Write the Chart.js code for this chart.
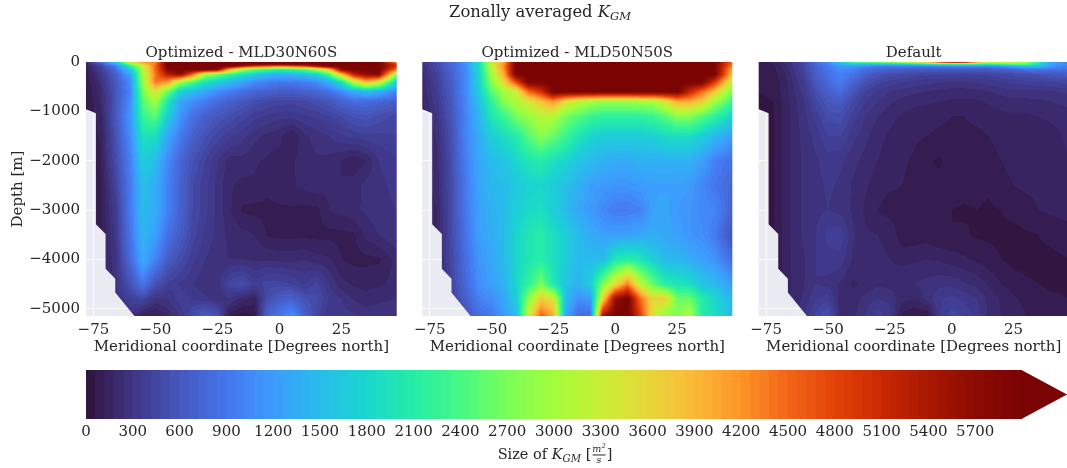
<!DOCTYPE html>
<html>
<head>
<meta charset="utf-8">
<script src="https://cdn.jsdelivr.net/npm/chart.js"></script>
<style>
  html, body { margin: 0; background: #fff; overflow: hidden; }
  #fig { position: relative; width: 1067px; height: 468px; overflow: hidden; font-family: "DejaVu Serif", serif; color: #262626; filter: blur(0.35px); }
  canvas { position: absolute; }
  .lbl { position: absolute; white-space: nowrap; transform: translate(-50%, -50%); line-height: 1; }
  .lbl sub { font-size: 0.7em; vertical-align: -0.25em; line-height: 0; }
  .frac { display: inline-block; vertical-align: middle; text-align: center; font-size: 0.66em; font-style: italic; line-height: 1.05; margin: 0 1px; }
  .frac span { display: block; }
  .frac span:first-child { border-bottom: 1px solid #262626; }
</style>
</head>
<body>
<div id="fig">
  <div class="lbl" style="left:540px; top:12px; font-size:16.4px">Zonally averaged <i>K<sub>GM</sub></i></div>
  <canvas id="panelA" width="400" height="316" style="left:0; top:40px"></canvas>
  <canvas id="panelB" width="345" height="316" style="left:392px; top:40px"></canvas>
  <canvas id="panelC" width="340" height="316" style="left:729px; top:40px"></canvas>
  <canvas id="cbar" width="1067" height="90" style="left:0; top:360px"></canvas>
  <div class="lbl" style="left:555px; top:455px; font-size:14.5px">Size of <i>K<sub>GM</sub></i> [<span class="frac"><span>m<sup style="font-size:.7em;line-height:0">2</sup></span><span>s</span></span>]</div>
</div>
<script>
const lonNodes = [-78, -72, -66, -60, -55, -50, -45, -40, -35, -30, -25, -20, -15, -10, -5, 0, 5, 10, 15, 20, 25, 30, 35, 40, 47.3];
const depthNodes = [0, -40, -80, -150, -250, -400, -600, -800, -1100, -1500, -2000, -2500, -3000, -3500, -4000, -4500, -4800, -5148];

// sea floor step on the southern side
const floorLon = [-78, -74, -74, -70.1, -70.1, -66.2, -66.2, -58.5];
const floorDepth = [-960, -1040, -3290, -3486, -4190, -4392, -4670, -5148];

const xTicks = [-75, -50, -25, 0, 25];
const yTicks = [0, -1000, -2000, -3000, -4000, -5000];
const cbarTicks = [0, 300, 600, 900, 1200, 1500, 1800, 2100, 2400, 2700, 3000, 3300, 3600, 3900, 4200, 4500, 4800, 5100, 5400, 5700];

// one row per entry of lonNodes, values follow depthNodes
const kgmMld30 = [
  [200, 150, 110, 90, 70, 60, 50, 50, 50, 50, 50, 50, 50, 50, 50, 50, 50, 50],
  [900, 600, 450, 380, 320, 260, 220, 190, 160, 130, 110, 100, 100, 110, 130, 150, 180, 200],
  [1700, 1300, 1000, 800, 680, 620, 580, 580, 600, 550, 500, 420, 350, 320, 280, 280, 280, 280],
  [3500, 2800, 2200, 1700, 1300, 1100, 1050, 1100, 1200, 1100, 1000, 950, 950, 900, 800, 550, 400, 300],
  [4200, 3800, 3300, 3100, 3000, 2900, 2700, 2500, 2300, 1950, 1700, 1550, 1500, 1450, 1350, 900, 450, 120],
  [4300, 4400, 4500, 4500, 4400, 4400, 3500, 3000, 2500, 1900, 1500, 1350, 1350, 1250, 1000, 550, 280, 100],
  [6000, 6000, 6000, 5800, 5300, 4200, 2600, 2000, 1700, 1300, 1050, 1000, 1000, 850, 650, 400, 300, 200],
  [6000, 6000, 6000, 6000, 5700, 3000, 1700, 1300, 1150, 950, 750, 720, 720, 650, 500, 350, 400, 300],
  [6000, 6000, 6000, 6000, 4500, 2500, 1500, 1100, 850, 700, 550, 480, 480, 450, 380, 300, 350, 500],
  [6000, 6000, 6000, 6000, 3000, 2000, 1300, 950, 700, 550, 420, 380, 380, 350, 300, 250, 320, 650],
  [6000, 6000, 6000, 5800, 2700, 1750, 1100, 800, 600, 450, 300, 280, 280, 280, 250, 260, 250, 550],
  [6000, 6000, 6000, 4000, 2300, 1500, 950, 700, 520, 380, 210, 190, 190, 220, 240, 450, 300, 80],
  [6000, 6000, 5500, 3000, 2000, 1300, 850, 620, 450, 320, 220, 160, 110, 200, 240, 520, 200, 20],
  [6000, 6000, 5000, 2600, 1700, 1100, 750, 520, 380, 260, 190, 170, 100, 180, 230, 380, 150, 60],
  [6000, 6000, 4800, 2400, 1500, 1000, 700, 480, 350, 220, 170, 130, 110, 110, 230, 450, 500, 700],
  [6000, 6000, 4600, 2200, 1400, 950, 650, 450, 320, 200, 150, 150, 110, 100, 220, 450, 650, 900],
  [6000, 6000, 4800, 2300, 1450, 950, 650, 440, 320, 120, 170, 170, 110, 100, 220, 420, 700, 1100],
  [6000, 6000, 5000, 2500, 1600, 1000, 700, 470, 350, 220, 210, 200, 100, 100, 240, 350, 550, 700],
  [6000, 6000, 5600, 3000, 1800, 1100, 750, 520, 370, 270, 230, 220, 100, 100, 200, 440, 500, 450],
  [6000, 6000, 6000, 3800, 2400, 1400, 850, 580, 420, 300, 220, 190, 180, 100, 190, 300, 350, 300],
  [6000, 6000, 6000, 5700, 3800, 2000, 1050, 700, 480, 350, 180, 180, 200, 100, 120, 200, 300, 320],
  [6000, 6000, 6000, 6000, 5200, 3200, 1350, 800, 550, 380, 130, 210, 230, 110, 100, 170, 230, 320],
  [6000, 6000, 6000, 6000, 5700, 4000, 1500, 800, 580, 400, 180, 260, 250, 200, 100, 160, 200, 280],
  [6000, 6000, 6000, 6000, 5800, 3500, 1400, 750, 520, 400, 300, 280, 280, 240, 110, 170, 220, 300],
  [4200, 4800, 5000, 4400, 2800, 1700, 1000, 650, 450, 420, 350, 320, 300, 300, 200, 200, 240, 300]
];

const kgmMld50 = [
  [300, 280, 260, 240, 220, 200, 180, 160, 150, 150, 150, 150, 150, 150, 150, 150, 150, 150],
  [550, 500, 480, 450, 420, 400, 380, 350, 300, 250, 220, 200, 180, 170, 160, 160, 160, 160],
  [800, 780, 760, 740, 700, 680, 650, 620, 590, 560, 530, 520, 500, 500, 480, 450, 400, 350],
  [1200, 1150, 1100, 1100, 1100, 1100, 1100, 1080, 1050, 1050, 1000, 950, 950, 900, 850, 800, 700, 600],
  [2000, 1900, 1850, 1850, 1800, 1800, 1700, 1550, 1450, 1350, 1300, 1300, 1250, 1250, 1150, 1100, 1000, 800],
  [3300, 3300, 3200, 3100, 3000, 2800, 2500, 2200, 2000, 1700, 1500, 1450, 1400, 1350, 1300, 1250, 1100, 900],
  [4000, 4200, 4300, 4200, 4000, 3600, 3000, 2800, 2300, 1900, 1600, 1500, 1500, 1500, 1500, 1400, 1300, 1200],
  [6000, 6000, 6000, 6000, 6000, 4800, 3300, 3100, 2700, 2100, 1800, 1650, 1700, 1800, 1800, 1800, 1700, 1500],
  [6000, 6000, 6000, 6000, 6000, 6000, 4500, 3400, 2900, 2500, 2000, 1750, 1850, 2000, 2000, 2200, 2800, 3300],
  [6000, 6000, 6000, 6000, 6000, 6000, 5000, 3800, 3200, 2800, 2100, 1800, 1900, 2100, 2100, 2700, 3700, 4600],
  [6000, 6000, 6000, 6000, 6000, 6000, 6000, 4200, 3100, 2600, 1900, 1700, 1700, 1900, 1900, 2000, 3400, 4000],
  [6000, 6000, 6000, 6000, 6000, 6000, 6000, 3500, 2700, 2300, 1800, 1550, 1500, 1700, 1700, 1600, 1500, 1300],
  [6000, 6000, 6000, 6000, 6000, 6000, 6000, 3200, 2500, 2000, 1600, 1400, 1300, 1500, 1500, 1400, 1100, 800],
  [6000, 6000, 6000, 6000, 6000, 6000, 6000, 3000, 2300, 1800, 1500, 1250, 1200, 1350, 1500, 1700, 1200, 800],
  [6000, 6000, 6000, 6000, 6000, 6000, 6000, 2900, 2200, 1700, 1400, 1200, 1050, 1250, 1500, 2700, 3600, 5500],
  [6000, 6000, 6000, 6000, 6000, 6000, 6000, 2900, 2200, 1700, 1350, 1150, 950, 1250, 2000, 3500, 5600, 6000],
  [6000, 6000, 6000, 6000, 6000, 6000, 6000, 2900, 2200, 1700, 1350, 1150, 950, 1250, 2100, 4300, 6000, 6000],
  [6000, 6000, 6000, 6000, 6000, 6000, 6000, 3000, 2200, 1700, 1400, 1200, 1000, 1300, 2000, 3200, 4500, 4900],
  [6000, 6000, 6000, 6000, 6000, 6000, 6000, 3000, 2300, 1750, 1400, 1250, 1250, 1350, 1700, 2600, 3600, 3500],
  [6000, 6000, 6000, 6000, 6000, 6000, 6000, 3400, 2500, 1850, 1400, 1250, 1300, 1300, 1500, 2100, 3700, 2800],
  [6000, 6000, 6000, 6000, 6000, 6000, 6000, 4000, 2800, 1900, 1400, 1250, 1200, 1250, 1450, 2000, 2600, 2800],
  [6000, 6000, 6000, 6000, 6000, 6000, 5200, 4000, 2800, 1900, 1400, 1200, 1150, 1150, 1350, 1900, 2600, 3100],
  [6000, 6000, 6000, 6000, 6000, 6000, 4500, 3700, 2500, 1700, 1250, 1050, 1050, 1100, 1250, 1600, 2100, 2100],
  [6000, 6000, 6000, 6000, 6000, 5000, 3800, 3000, 2200, 1500, 1000, 900, 1050, 950, 1150, 1500, 1800, 1900],
  [4500, 4400, 4300, 4000, 3800, 3200, 2700, 2300, 1800, 1200, 850, 750, 700, 550, 800, 1200, 1400, 1500]
];

const kgmDefault = [
  [110, 100, 90, 80, 70, 60, 60, 50, 50, 50, 50, 50, 50, 50, 50, 50, 50, 50],
  [130, 120, 110, 100, 90, 80, 70, 60, 60, 60, 60, 60, 60, 60, 60, 60, 60, 60],
  [280, 260, 240, 220, 200, 190, 180, 170, 170, 170, 170, 170, 170, 170, 170, 170, 170, 170],
  [500, 470, 440, 420, 400, 360, 320, 290, 270, 260, 250, 250, 250, 250, 230, 230, 250, 280],
  [800, 760, 720, 680, 650, 600, 520, 450, 380, 320, 290, 280, 280, 300, 300, 300, 350, 450],
  [1100, 1000, 950, 900, 850, 780, 700, 600, 500, 420, 330, 310, 300, 380, 340, 280, 400, 550],
  [1700, 1400, 1200, 1080, 1000, 950, 800, 650, 520, 420, 310, 290, 280, 400, 340, 230, 200, 220],
  [2400, 1700, 1250, 1000, 880, 750, 580, 470, 390, 320, 260, 230, 230, 250, 230, 170, 200, 220],
  [2600, 1700, 1100, 850, 700, 550, 420, 360, 300, 260, 220, 190, 170, 190, 200, 190, 260, 300],
  [2800, 1600, 1000, 750, 580, 450, 350, 300, 240, 200, 180, 150, 120, 180, 190, 230, 300, 400],
  [3000, 1700, 1000, 700, 520, 400, 300, 250, 200, 170, 150, 130, 90, 170, 180, 220, 280, 330],
  [3200, 1800, 1000, 650, 480, 370, 270, 220, 170, 140, 130, 120, 90, 80, 160, 230, 200, 100],
  [3500, 2000, 1000, 650, 450, 340, 250, 200, 150, 130, 110, 100, 70, 80, 170, 240, 180, 60],
  [4000, 2200, 1000, 630, 440, 320, 240, 190, 140, 120, 70, 60, 60, 90, 180, 260, 260, 50],
  [5200, 2300, 1050, 620, 430, 310, 220, 180, 130, 110, 50, 80, 60, 60, 170, 280, 350, 350],
  [5900, 2500, 1100, 630, 430, 300, 210, 170, 120, 110, 100, 90, 60, 60, 150, 280, 380, 450],
  [5800, 2500, 1100, 630, 420, 300, 210, 170, 120, 110, 100, 90, 50, 70, 130, 250, 340, 420],
  [4500, 2400, 1100, 620, 430, 310, 220, 170, 130, 110, 100, 80, 60, 50, 110, 220, 300, 330],
  [3300, 2300, 1100, 650, 440, 330, 240, 190, 140, 120, 110, 70, 50, 50, 80, 170, 220, 230],
  [3500, 2500, 1200, 680, 470, 360, 260, 210, 160, 130, 120, 110, 60, 50, 60, 120, 170, 180],
  [3300, 2700, 1400, 750, 500, 380, 280, 220, 170, 140, 130, 120, 80, 40, 40, 90, 130, 160],
  [3000, 2600, 1700, 850, 520, 400, 280, 220, 170, 140, 130, 130, 100, 50, 40, 70, 100, 120],
  [2200, 2000, 1500, 900, 560, 400, 280, 230, 180, 150, 130, 130, 120, 60, 40, 60, 80, 90],
  [1300, 1300, 1200, 900, 600, 420, 290, 240, 190, 160, 150, 150, 130, 80, 40, 50, 70, 80],
  [1000, 1000, 950, 800, 650, 450, 320, 260, 210, 190, 180, 180, 140, 100, 60, 50, 60, 70]
];

const levelStep = 60;
const levelMax = 6000;
const textColor = "#262626";
const fontFamily = "'DejaVu Serif', serif";

// turbo colormap samples, evenly spaced from 0 to 1
const turboStops = [
  [48, 18, 59], [63, 53, 132], [70, 87, 188], [70, 117, 237], [62, 155, 254], [40, 188, 235], [26, 214, 205],
  [37, 236, 167], [70, 248, 132], [121, 254, 89], [164, 252, 60], [200, 239, 52], [230, 215, 57], [251, 185, 56],
  [253, 148, 39], [243, 101, 24], [226, 67, 9], [201, 41, 3], [169, 24, 1], [140, 12, 2], [122, 4, 3]
];

function turbo(t) {
  const p = Math.min(1, Math.max(0, t)) * (turboStops.length - 1);
  const i = Math.min(Math.floor(p), turboStops.length - 2);
  return turboStops[i].map((c, k) => Math.round(c + (turboStops[i + 1][k] - c) * (p - i)));
}

function levelColor(v) {
  const lvl = Math.min(Math.floor(v / levelStep), levelMax / levelStep - 1);
  return turbo((lvl + 0.5) / (levelMax / levelStep));
}

// fractional index of v inside a monotonic node list
function nodePos(nodes, v) {
  const dir = nodes[1] > nodes[0] ? 1 : -1;
  for (let i = 0; i < nodes.length - 1; i++) {
    if (dir * v <= dir * nodes[i + 1]) return i + (v - nodes[i]) / (nodes[i + 1] - nodes[i]);
  }
  return nodes.length - 1;
}

// filled contours on the plot area
const contourFill = {
  id: "contourFill",
  beforeDatasetsDraw(chart) {
    const { ctx, chartArea: a, scales: { x, y } } = chart;
    const pts = chart.data.datasets[0].data;
    const nD = depthNodes.length;
    const left = Math.floor(a.left), top = Math.floor(a.top);
    const w = Math.ceil(a.right) - left, h = Math.ceil(a.bottom) - top;
    const off = document.createElement("canvas");
    off.width = w; off.height = h;
    const octx = off.getContext("2d");
    const img = octx.createImageData(w, h);
    const colPos = [], rowPos = [];
    for (let i = 0; i < w; i++) colPos.push(nodePos(lonNodes, x.getValueForPixel(left + i + 0.5)));
    for (let j = 0; j < h; j++) rowPos.push(nodePos(depthNodes, y.getValueForPixel(top + j + 0.5)));
    for (let j = 0; j < h; j++) {
      const r = Math.max(0, rowPos[j]);
      const r0 = Math.min(Math.floor(r), nD - 2), fr = Math.min(1, r - r0);
      for (let i = 0; i < w; i++) {
        const c = Math.max(0, colPos[i]);
        const c0 = Math.min(Math.floor(c), lonNodes.length - 2), fc = Math.min(1, c - c0);
        const v00 = pts[c0 * nD + r0].v, v01 = pts[c0 * nD + r0 + 1].v;
        const v10 = pts[(c0 + 1) * nD + r0].v, v11 = pts[(c0 + 1) * nD + r0 + 1].v;
        const v = (v00 * (1 - fr) + v01 * fr) * (1 - fc) + (v10 * (1 - fr) + v11 * fr) * fc;
        const col = levelColor(v);
        const k = (j * w + i) * 4;
        img.data[k] = col[0]; img.data[k + 1] = col[1]; img.data[k + 2] = col[2]; img.data[k + 3] = 255;
      }
    }
    octx.putImageData(img, 0, 0);

    ctx.save();
    ctx.beginPath();
    ctx.moveTo(a.left, a.top);
    floorLon.forEach((lon, i) => ctx.lineTo(x.getPixelForValue(lon), y.getPixelForValue(floorDepth[i])));
    ctx.lineTo(a.right, a.bottom);
    ctx.lineTo(a.right, a.top);
    ctx.closePath();
    ctx.clip();
    ctx.drawImage(off, left, top);
    ctx.restore();
  }
};

const plotBackground = {
  id: "plotBackground",
  beforeDraw(chart) {
    const { ctx, chartArea: a } = chart;
    ctx.save();
    ctx.fillStyle = "#eaeaf2";
    ctx.fillRect(a.left, a.top, a.right - a.left, a.bottom - a.top);
    ctx.restore();
  }
};

function minusLabel(v) {
  return String(v).replace("-", "\u2212");
}

function makePanel(id, title, values, yWidth, rightPad, showY) {
  const points = [];
  lonNodes.forEach((lon, i) => depthNodes.forEach((d, j) => points.push({ x: lon, y: d, v: values[i][j] })));
  return new Chart(document.getElementById(id), {
    type: "scatter",
    data: { datasets: [{ data: points, pointRadius: 0 }] },
    options: {
      responsive: false,
      animation: false,
      events: [],
      layout: { padding: { right: rightPad } },
      plugins: {
        legend: { display: false },
        tooltip: { enabled: false },
        title: {
          display: true,
          fullSize: false,
          text: title,
          color: textColor,
          font: { family: fontFamily, size: 15, weight: "normal", lineHeight: 1.2 },
          padding: { top: 4, bottom: 0 }
        }
      },
      scales: {
        x: {
          type: "linear",
          min: -78,
          max: 47.3,
          afterBuildTicks: s => { s.ticks = xTicks.map(v => ({ value: v })); },
          afterFit: s => { s.height = 40; },
          grid: { color: "#fff", drawTicks: false },
          border: { display: false },
          ticks: { color: textColor, font: { family: fontFamily, size: 15 }, padding: 5, maxRotation: 0, autoSkip: false, callback: minusLabel },
          title: {
            display: true,
            text: "Meridional coordinate [Degrees north]",
            color: textColor,
            font: { family: fontFamily, size: 15, lineHeight: 1.2 },
            padding: { top: 0, bottom: 0 }
          }
        },
        y: {
          type: "linear",
          min: -5148,
          max: 0,
          afterBuildTicks: s => { s.ticks = yTicks.map(v => ({ value: v })); },
          afterFit: s => { s.width = yWidth; },
          grid: { color: "#fff", drawTicks: false },
          border: { display: false },
          ticks: { display: showY, color: textColor, font: { family: fontFamily, size: 15 }, padding: 6, autoSkip: false, callback: minusLabel },
          title: {
            display: showY,
            text: "Depth [m]",
            color: textColor,
            font: { family: fontFamily, size: 15, lineHeight: 1.2 },
            padding: { top: 9, bottom: 0 }
          }
        }
      }
    },
    plugins: [plotBackground, contourFill]
  });
}

makePanel("panelA", "Optimized - MLD30N60S", kgmMld30, 86, 3.3, true);
makePanel("panelB", "Optimized - MLD50N50S", kgmMld50, 30.3, 4.7, false);
makePanel("panelC", "Default", kgmDefault, 29.7, 0.3, false);

// colourbar: one floating bar per contour level. Chart.js paints dataset 0 last,
// so the highest level goes first and the lower ones show from underneath
const levelStarts = [];
for (let lv = levelMax - levelStep; lv >= 0; lv -= levelStep) levelStarts.push(lv);

const cbarArrow = {
  id: "cbarArrow",
  afterDatasetsDraw(chart) {
    const { ctx, chartArea: a } = chart;
    const c = turbo(1);
    ctx.save();
    ctx.fillStyle = `rgb(${c[0]},${c[1]},${c[2]})`;
    ctx.beginPath();
    ctx.moveTo(a.right - 0.5, a.top);
    ctx.lineTo(chart.width, (a.top + a.bottom) / 2);
    ctx.lineTo(a.right - 0.5, a.bottom);
    ctx.closePath();
    ctx.fill();
    ctx.restore();
  }
};

new Chart(document.getElementById("cbar"), {
  type: "bar",
  data: {
    labels: ["KGM"],
    datasets: levelStarts.map(lv => {
      const c = levelColor(lv);
      return { data: [[lv, levelMax]], backgroundColor: `rgb(${c[0]},${c[1]},${c[2]})`, borderWidth: 0, barPercentage: 1, categoryPercentage: 1, grouped: false };
    })
  },
  options: {
    indexAxis: "y",
    responsive: false,
    animation: false,
    events: [],
    layout: { padding: { left: 86, right: 45, top: 10, bottom: 0 } },
    plugins: { legend: { display: false }, tooltip: { enabled: false } },
    scales: {
      x: {
        type: "linear",
        min: 0,
        max: levelMax,
        afterBuildTicks: s => { s.ticks = cbarTicks.map(v => ({ value: v })); },
        afterFit: s => { s.height = 31; },
        grid: { display: false, drawTicks: false },
        border: { display: false },
        ticks: { color: textColor, font: { family: fontFamily, size: 15 }, padding: 4, maxRotation: 0, autoSkip: false, callback: v => String(v) }
      },
      y: { display: false }
    }
  },
  plugins: [cbarArrow]
});
</script>
</body>
</html>
